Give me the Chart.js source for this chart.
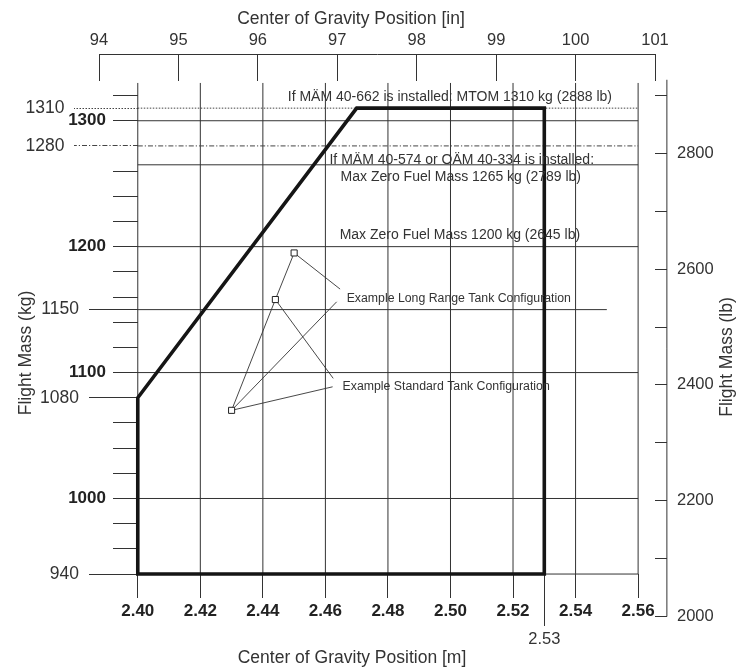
<!DOCTYPE html>
<html>
<head>
<meta charset="utf-8">
<script src="https://cdn.jsdelivr.net/npm/chart.js@4.4.1/dist/chart.umd.min.js"></script>
<style>
  html, body { margin: 0; padding: 0; background: #ffffff; }
  #wrap { width: 740px; height: 670px; position: relative; }
</style>
</head>
<body>
<div id="wrap"><canvas id="c"></canvas></div>
<script>
// ---------------- data ----------------
const cgTicksM        = [2.40, 2.42, 2.44, 2.46, 2.48, 2.50, 2.52, 2.54, 2.56];
const cgExtraTicksM   = [2.53];
const cgTicksIn       = [94, 95, 96, 97, 98, 99, 100, 101];
const massTicksKg     = [940, 960, 980, 1000, 1020, 1040, 1060, 1080, 1100, 1120, 1140, 1160,
                         1180, 1200, 1220, 1240, 1260, 1280, 1300, 1320];
const massMajorKg     = [1000, 1100, 1200, 1300];
const massMinorKg     = [940, 1080, 1150];
const massLimitKg     = [1280, 1310];
const massTicksLb     = [2000, 2100, 2200, 2300, 2400, 2500, 2600, 2700, 2800, 2900];
const massLabelsLb    = [2000, 2200, 2400, 2600, 2800];

// CG envelope (m, kg)
const envelopeCg      = [2.40, 2.40, 2.47, 2.53, 2.53, 2.40];
const envelopeMass    = [940, 1080, 1310, 1310, 940, 940];

// grid / reference lines
const gridMassKg      = [940, 1000, 1100, 1200, 1265, 1300];
const gridCgRange     = [2.40, 2.56];
const line1150Kg      = 1150;
const line1150CgRange = [2.40, 2.55];
const gridMassRange   = [940, 1330];
const mtomKg          = 1310;
const mzfmOptKg       = 1280;
const rightAxisCg     = 2.5692;
const rightAxisLb     = [2000, 2927];

// example loading points
const exampleCg       = [2.450, 2.444, 2.430];
const exampleMass     = [1195, 1158, 1070];

// leader lines (m, kg)
const leaderCg   = [[2.450, 2.4647], [2.4636, 2.430], [2.444, 2.4625], [2.430, 2.4623], [2.450, 2.444, 2.430]];
const leaderMass = [[1195, 1166.3],  [1156.2, 1070],  [1158, 1095.4],  [1070, 1088.7],  [1195, 1158, 1070]];

// annotation texts and their anchors (m, kg)
const noteTexts = [
  'If MÄM 40-662 is installed: MTOM 1310 kg (2888 lb)',
  'If MÄM 40-574 or OÄM 40-334 is installed:',
  'Max Zero Fuel Mass 1265 kg (2789 lb)',
  'Max Zero Fuel Mass 1200 kg (2645 lb)',
  'Example Long Range Tank Configuration',
  'Example Standard Tank Configuration'
];
const noteCg   = [2.4998, 2.5036, 2.5033, 2.5030, 2.4668, 2.4655];
const noteMass = [1319.1, 1268.8, 1255.5, 1209.2, 1158.9, 1088.7];

// ---------------- layout / style ----------------
const IN_TO_M = 0.0254;
const X_MIN = 94 * IN_TO_M, X_MAX = 101 * IN_TO_M;
const PLOT_WIDTH_PX = 556;
const M_PER_PX = (X_MAX - X_MIN) / PLOT_WIDTH_PX;
const Y_MIN = 903.5, Y_MAX = 1353;
const LB_MIN = 1994, LB_MAX = 2971.5;
const LABEL_GAP_PX = {major: 31.8, minor: 58.8, limit: 73.3};
const FONT = "'Liberation Sans', Arial, Helvetica, sans-serif";
const INK = '#222222';
const TEXT = '#333333';
const noteStyle = [
  {size: 14, align: 'center'}, {size: 14, align: 'center'}, {size: 14, align: 'center'},
  {size: 14, align: 'center'}, {size: 12.3, align: 'left'}, {size: 12.3, align: 'left'}
];

function pts(xs, ys) { return xs.map((x, i) => ({x: x, y: ys[i]})); }
function broken(list) {
  const out = [];
  list.forEach(seg => { seg.forEach(p => out.push(p)); out.push({x: seg[seg.length - 1].x, y: null}); });
  return out;
}
function ticksFrom(values) { return s => { s.ticks = values.map(v => ({value: v})); }; }

const lineDefaults = {showLine: true, pointRadius: 0, pointHoverRadius: 0, fill: false, tension: 0, spanGaps: false};

const datasets = [
  Object.assign({}, lineDefaults, {
    label: 'Examples', data: pts(exampleCg, exampleMass), showLine: false,
    pointStyle: 'rect', pointRadius: 4.3, pointBackgroundColor: '#ffffff',
    pointBorderColor: INK, pointBorderWidth: 1
  }),
  Object.assign({}, lineDefaults, {
    label: 'Envelope', data: pts(envelopeCg, envelopeMass),
    borderColor: '#151515', borderWidth: 3.6, borderJoinStyle: 'miter', borderCapStyle: 'square'
  }),
  Object.assign({}, lineDefaults, {
    label: 'Leaders', data: broken(leaderCg.map((xs, i) => pts(xs, leaderMass[i]))),
    borderColor: '#333333', borderWidth: 0.9
  }),
  Object.assign({}, lineDefaults, {
    label: 'MTOM', data: pts(gridCgRange, [mtomKg, mtomKg]),
    borderColor: '#444444', borderWidth: 1, borderDash: [1.5, 1.5]
  }),
  Object.assign({}, lineDefaults, {
    label: 'MZFM opt', data: pts(gridCgRange, [mzfmOptKg, mzfmOptKg]),
    borderColor: '#444444', borderWidth: 1, borderDash: [5, 2, 1.2, 2]
  }),
  Object.assign({}, lineDefaults, {
    label: 'HGrid', data: broken(gridMassKg.map(m => pts(gridCgRange, [m, m])).concat([pts(line1150CgRange, [line1150Kg, line1150Kg])])),
    borderColor: '#333333', borderWidth: 1
  }),
  Object.assign({}, lineDefaults, {
    label: 'VGrid', data: broken(cgTicksM.map(c => pts([c, c], gridMassRange))),
    borderColor: '#333333', borderWidth: 1
  }),
  Object.assign({}, lineDefaults, {
    label: 'lb axis', data: pts([rightAxisCg, rightAxisCg], rightAxisLb), yAxisID: 'y2',
    borderColor: '#333333', borderWidth: 1, clip: false
  })
];

const textPlugin = {
  id: 'textPlugin',
  afterDraw(chart) {
    const ctx = chart.ctx, sx = chart.scales.x, sy = chart.scales.y;
    ctx.save();
    ctx.fillStyle = TEXT;
    ctx.textBaseline = 'middle';
    noteTexts.forEach((t, i) => {
      ctx.font = noteStyle[i].size + 'px ' + FONT;
      ctx.textAlign = noteStyle[i].align;
      ctx.fillText(t, sx.getPixelForValue(noteCg[i]), sy.getPixelForValue(noteMass[i]));
    });
    ctx.font = '17.5px ' + FONT;
    ctx.textAlign = 'center';
    ctx.fillText('Center of Gravity Position [in]', 351, 19);
    ctx.fillText('Center of Gravity Position [m]', 352, 658);
    ctx.save(); ctx.translate(26, 353); ctx.rotate(-Math.PI / 2);
    ctx.fillText('Flight Mass (kg)', 0, 0); ctx.restore();
    ctx.save(); ctx.translate(727, 357); ctx.rotate(-Math.PI / 2);
    ctx.fillText('Flight Mass (lb)', 0, 0); ctx.restore();
    ctx.restore();
  }
};

function tickGrid(len, extra) {
  return Object.assign({display: true, drawOnChartArea: false, drawTicks: true, tickLength: len,
                        tickColor: '#333333', tickWidth: 1}, extra || {});
}
// tick-mark-only axis sitting on the 2.40 m line
function kgTickAxis(values, len, gridExtra) {
  return {
    type: 'linear', axis: 'y', min: Y_MIN, max: Y_MAX, position: {x: gridCgRange[0]},
    afterBuildTicks: ticksFrom(values), ticks: {display: false, autoSkip: false},
    grid: tickGrid(len, gridExtra), border: {display: false}
  };
}
// label-only axis, right-aligned a given distance left of the 2.40 m line
function kgLabelAxis(values, gapPx, font, color) {
  return {
    type: 'linear', axis: 'y', min: Y_MIN, max: Y_MAX,
    position: {x: gridCgRange[0] - gapPx * M_PER_PX},
    afterBuildTicks: ticksFrom(values),
    ticks: {autoSkip: false, padding: 0, color: color, font: font, callback: v => String(v)},
    grid: {display: false, drawTicks: false}, border: {display: false}
  };
}

new Chart(document.getElementById('c'), {
  type: 'scatter',
  data: {datasets: datasets},
  plugins: [textPlugin],
  options: {
    responsive: true, maintainAspectRatio: false, animation: false,
    layout: {padding: {left: 99, right: 15, top: 10, bottom: 50}},
    plugins: {legend: {display: false}, title: {display: false}, tooltip: {enabled: false}},
    events: [],
    scales: {
      x: {
        type: 'linear', axis: 'x', min: X_MIN, max: X_MAX, position: {y: 940},
        afterBuildTicks: ticksFrom(cgTicksM),
        ticks: {autoSkip: false, maxRotation: 0, padding: 3.5, color: INK,
                font: {family: FONT, size: 17, weight: 'bold'}, callback: v => v.toFixed(2)},
        grid: tickGrid(24), border: {display: false}
      },
      xExtra: {
        type: 'linear', axis: 'x', min: X_MIN, max: X_MAX, position: {y: 940},
        afterBuildTicks: ticksFrom(cgExtraTicksM),
        ticks: {autoSkip: false, maxRotation: 0, padding: 4, color: TEXT,
                font: {family: FONT, size: 16.5}, callback: v => v.toFixed(2)},
        grid: tickGrid(52), border: {display: false}
      },
      xInLine: {
        type: 'linear', axis: 'x', min: 94, max: 101, position: {y: Y_MAX},
        afterBuildTicks: ticksFrom(cgTicksIn),
        ticks: {display: false},
        grid: tickGrid(26), border: {display: true, color: '#333333', width: 1}
      },
      xIn: {
        type: 'linear', axis: 'x', min: 94, max: 101, position: 'top',
        afterBuildTicks: ticksFrom(cgTicksIn),
        afterFit: s => { s.height = 44; },
        ticks: {autoSkip: false, maxRotation: 0, padding: 4.1, color: TEXT,
                font: {family: FONT, size: 16.5}, callback: v => String(v)},
        grid: {display: false, drawTicks: false}, border: {display: false}
      },
      y: kgTickAxis(massTicksKg, 25,
           {tickColor: c => (c.tick && massLimitKg.includes(c.tick.value)) ? 'rgba(0,0,0,0)' : '#333333'}),
      yMinorTicks: kgTickAxis(massMinorKg, 49),
      yLimitTicks: kgTickAxis(massLimitKg, 64, {tickColor: '#444444',
           tickBorderDash: c => (c.tick && c.tick.value === mzfmOptKg) ? [5, 2, 1.2, 2] : [1.5, 1.5]}),
      yMajorLabels: kgLabelAxis(massMajorKg, LABEL_GAP_PX.major, {family: FONT, size: 17, weight: 'bold'}, INK),
      yMinorLabels: kgLabelAxis(massMinorKg, LABEL_GAP_PX.minor, {family: FONT, size: 17.5}, TEXT),
      yLimitLabels: kgLabelAxis(massLimitKg, LABEL_GAP_PX.limit, {family: FONT, size: 17.5}, TEXT),
      y2Ticks: {
        type: 'linear', axis: 'y', min: LB_MIN, max: LB_MAX, position: {x: rightAxisCg},
        afterBuildTicks: ticksFrom(massTicksLb),
        ticks: {display: false},
        grid: tickGrid(12), border: {display: false}
      },
      y2: {
        type: 'linear', axis: 'y', min: LB_MIN, max: LB_MAX, position: 'right',
        afterBuildTicks: ticksFrom(massTicksLb),
        afterFit: s => { s.width = 70; },
        ticks: {autoSkip: false, padding: 22, color: TEXT, font: {family: FONT, size: 16.5},
                callback: v => massLabelsLb.includes(v) ? String(v) : ''},
        grid: {display: false, drawTicks: false}, border: {display: false}
      }
    }
  }
});
</script>
</body>
</html>
